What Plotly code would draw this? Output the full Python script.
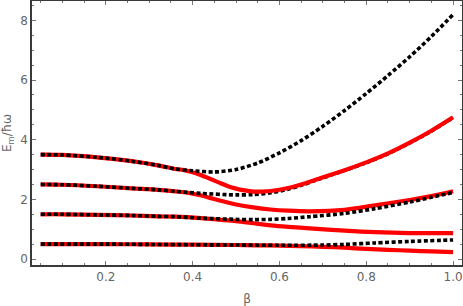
import plotly.graph_objects as go

# ---- data ----
beta_r0 = [0.05, 0.20, 0.30, 0.40, 0.50, 0.55, 0.60, 0.65, 0.70, 0.75, 0.80, 0.85, 0.90, 0.95, 1.00]
E_r0 = [0.50, 0.50, 0.49, 0.48, 0.47, 0.46, 0.45, 0.43, 0.41, 0.38, 0.34, 0.31, 0.28, 0.255, 0.23]

beta_r1 = [0.05, 0.10, 0.18, 0.26, 0.32, 0.36, 0.42, 0.46, 0.50, 0.54, 0.58, 0.62, 0.67, 0.75, 0.82, 0.90, 1.00]
E_r1 = [1.50, 1.50, 1.48, 1.46, 1.43, 1.42, 1.37, 1.32, 1.27, 1.20, 1.13, 1.08, 1.03, 0.95, 0.90, 0.87, 0.87]

beta_r2 = [0.05, 0.10, 0.18, 0.26, 0.32, 0.36, 0.38, 0.40, 0.42, 0.44, 0.46, 0.50, 0.54, 0.58, 0.62, 0.67, 0.75, 0.82, 0.90, 0.95, 1.00]
E_r2 = [2.50, 2.49, 2.44, 2.37, 2.32, 2.27, 2.24, 2.19, 2.13, 2.05, 1.97, 1.83, 1.73, 1.66, 1.62, 1.60, 1.65, 1.80, 1.98, 2.11, 2.27]

beta_r3 = [0.05, 0.10, 0.18, 0.26, 0.32, 0.36, 0.38, 0.40, 0.42, 0.44, 0.46, 0.48, 0.50, 0.52, 0.54, 0.56, 0.58, 0.62, 0.65, 0.68, 0.72, 0.76, 0.80, 0.85, 0.90, 0.95, 1.00]
E_r3 = [3.50, 3.49, 3.41, 3.28, 3.14, 3.02, 2.98, 2.91, 2.81, 2.69, 2.57, 2.45, 2.36, 2.30, 2.26, 2.26, 2.28, 2.38, 2.50, 2.64, 2.83, 3.03, 3.24, 3.54, 3.90, 4.30, 4.75]

beta_b0 = [0.05, 0.20, 0.30, 0.40, 0.50, 0.60, 0.70, 0.75, 0.82, 0.90, 1.00]
E_b0 = [0.50, 0.50, 0.49, 0.48, 0.47, 0.46, 0.47, 0.49, 0.54, 0.59, 0.64]

beta_b1 = [0.05, 0.10, 0.18, 0.26, 0.32, 0.36, 0.42, 0.50, 0.54, 0.58, 0.62, 0.67, 0.75, 0.82, 0.90, 0.95, 1.00]
E_b1 = [1.50, 1.50, 1.48, 1.46, 1.43, 1.42, 1.37, 1.33, 1.32, 1.33, 1.36, 1.42, 1.53, 1.69, 1.91, 2.07, 2.23]

beta_b2 = [0.05, 0.10, 0.18, 0.26, 0.32, 0.36, 0.42, 0.50, 0.54, 0.58, 0.62, 0.65, 0.68, 0.72, 0.76, 0.80, 0.85, 0.90, 0.95, 1.00]
E_b2 = [2.50, 2.49, 2.44, 2.37, 2.32, 2.27, 2.20, 2.15, 2.16, 2.22, 2.34, 2.47, 2.62, 2.82, 3.02, 3.23, 3.53, 3.89, 4.29, 4.74]

beta_b3 = [0.05, 0.10, 0.18, 0.26, 0.32, 0.36, 0.40, 0.45, 0.50, 0.55, 0.60, 0.65, 0.70, 0.75, 0.80, 0.85, 0.90, 0.95, 1.00]
E_b3 = [3.50, 3.49, 3.41, 3.28, 3.14, 3.02, 2.96, 2.92, 3.00, 3.22, 3.56, 3.97, 4.45, 4.98, 5.55, 6.15, 6.78, 7.46, 8.20]

x_ticks = [0.2, 0.4, 0.6, 0.8, 1.0]
x_ticktext = ["0.2", "0.4", "0.6", "0.8", "1.0"]
y_ticks = [0, 2, 4, 6, 8]
y_ticktext = ["0", "2", "4", "6", "8"]

RED = "#ff0000"
BLACK = "#000000"
GRAY = "#666666"


def red(x, y):
    return go.Scatter(x=x, y=y, mode="lines", line=dict(color=RED, width=4.2, shape="spline", smoothing=0.8),
                      showlegend=False, hoverinfo="skip")


def black(x, y):
    return go.Scatter(x=x, y=y, mode="lines",
                      line=dict(color=BLACK, width=3.6, shape="spline", smoothing=0.8, dash="4px,2.5px"),
                      showlegend=False, hoverinfo="skip")


fig = go.Figure()
fig.add_trace(red(beta_r0, E_r0))
fig.add_trace(red(beta_r1, E_r1))
fig.add_trace(red(beta_r2, E_r2))
fig.add_trace(black(beta_b2, E_b2))
fig.add_trace(red(beta_r3, E_r3))
fig.add_trace(black(beta_b0, E_b0))
fig.add_trace(black(beta_b1, E_b1))
fig.add_trace(black(beta_b3, E_b3))

axis_common = dict(
    showline=True, mirror="allticks", linecolor="#3a3a3a", linewidth=1.6,
    ticks="inside", ticklen=4, tickwidth=1, tickcolor="#777777",
    showgrid=False, zeroline=False, automargin=False,
    tickfont=dict(family="DejaVu Sans", size=12, color=GRAY),
)

fig.update_layout(
    width=463, height=306,
    margin=dict(l=32, r=1, t=1, b=41),
    paper_bgcolor="white", plot_bgcolor="white",
    xaxis=dict(range=[0.03, 1.0205], tickvals=x_ticks, ticktext=x_ticktext,
               minor=dict(dtick=0.05, tick0=0, ticks="inside", ticklen=2, tickcolor="#777777"),
               title=dict(text="β", font=dict(family="DejaVu Sans", size=12, color=GRAY)),
               **axis_common),
    yaxis=dict(range=[-0.2, 8.65], tickvals=y_ticks, ticktext=y_ticktext,
               minor=dict(dtick=0.5, tick0=0, ticks="inside", ticklen=2, tickcolor="#777777"),
               title=dict(text="E<sub>m</sub>/ħω", font=dict(family="DejaVu Sans", size=12, color=GRAY)),
               **axis_common),
)

fig.write_html("out.html", config={"displayModeBar": False},
               post_script="document.body.style.margin='0';document.body.style.overflow='hidden';")
